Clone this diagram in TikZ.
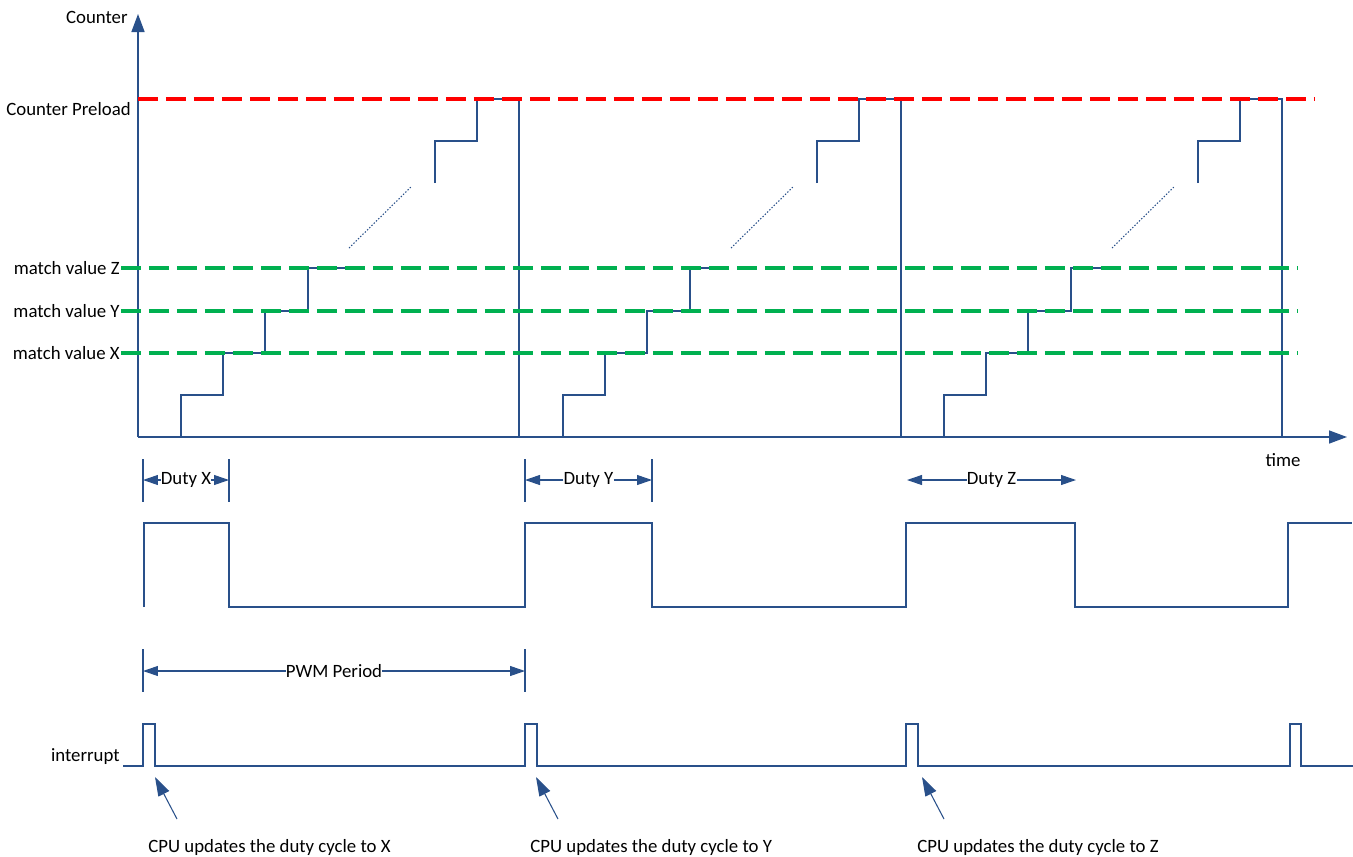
\documentclass[tikz,border=0pt]{standalone}
\usepackage{fontspec}
\setmainfont{Carlito}
\usetikzlibrary{arrows.meta}

\definecolor{sigblue}{RGB}{41,80,138}
\definecolor{preloadred}{RGB}{255,0,0}
\definecolor{matchgreen}{RGB}{0,176,80}

\begin{document}
\begin{tikzpicture}[x=0.02cm, y=-0.02cm,
    every node/.style={font=\fontsize{10.7}{12}\selectfont, inner sep=0pt},
    sig/.style={draw=sigblue, line width=0.8pt},
    axis/.style={draw=sigblue, line width=0.9pt, -{Triangle[length=0.36cm, width=0.26cm]}},
    level/.style={line width=2.1pt, dash pattern=on 0.4cm off 0.16cm},
    dimarrow/.style={draw=sigblue, line width=0.6pt, -{Triangle[length=0.3cm, width=0.2cm]}},
    cpuarrow/.style={draw=sigblue, line width=0.6pt, -{Triangle[length=0.38cm, width=0.24cm]}}]

        \useasboundingbox (0,0) rectangle (1353,856);

        % Counter staircase, one per PWM period
        \foreach \p in {138,520,901}{
            \draw[sig] (\p+43,437) |- (\p+85,395) |- (\p+127,353) |- (\p+170,311) |- (\p+209,268);
            \draw[sig, densely dotted, line width=0.6pt] (\p+211,248) -- (\p+274,186);
            \draw[sig] (\p+297,183) |- (\p+339,141) |- (\p+381,99) -- (\p+381,437);
        }

        % Axes
        \draw[axis] (138,437) -- (138,14);
        \draw[axis] (138,437) -- (1347,437);
        \node[anchor=east] (counterlbl) at (128,17) {Counter};
        \node (timelbl) at (1283,460) {time};

        % Preload and match levels
        \draw[level, preloadred] (138,99) -- (1315,99);
        \foreach \y in {268,311,353}
            \draw[level, matchgreen] (121,\y) -- (1298,\y);
        \node[anchor=east] (preloadlbl) at (131,109) {Counter Preload};
        \node[anchor=east] (matchZ) at (120,268) {match value Z};
        \node[anchor=east] (matchY) at (120,311) {match value Y};
        \node[anchor=east] (matchX) at (120,353) {match value X};

        % Duty widths
        \foreach \x in {143,229,525,652}
            \draw[sig, line width=0.6pt] (\x,459) -- (\x,502);
        \coordinate (dX0) at (143,480);
        \coordinate (dX1) at (229,480);
        \coordinate (dY0) at (525,480);
        \coordinate (dY1) at (652,480);
        \coordinate (dZ0) at (907,480);
        \coordinate (dZ1) at (1076,480);
        \node (dutyX) at (186,480) {Duty X};
        \node (dutyY) at (588.5,480) {Duty Y};
        \node (dutyZ) at (991.5,480) {Duty Z};
        \draw[dimarrow] (dutyX) -- (dX0);
        \draw[dimarrow] (dutyX) -- (dX1);
        \draw[dimarrow] (dutyY) -- (dY0);
        \draw[dimarrow] (dutyY) -- (dY1);
        \draw[dimarrow] (dutyZ) -- (dZ0);
        \draw[dimarrow] (dutyZ) -- (dZ1);

        % PWM output
        \draw[sig] (144,607) |- (229,523) |- (525,607) |- (652,523) |- (906,607)
            |- (1075,523) |- (1288,607) |- (1352,523);

        % PWM period
        \foreach \x in {143,525}
            \draw[sig, line width=0.6pt] (\x,649) -- (\x,692);
        \coordinate (per0) at (143,671);
        \coordinate (per1) at (525,671);
        \node (period) at (334,671) {PWM Period};
        \draw[dimarrow] (period) -- (per0);
        \draw[dimarrow] (period) -- (per1);

        % Interrupt line
        \node[anchor=east] (intlbl) at (120,757) {interrupt};
        \draw[sig] (123,766) -| (143,724) -| (155,766) -| (525,724) -| (537,766)
            -| (906,724) -| (918,766) -| (1290,724) -| (1301,766) -- (1353,766);

        % CPU updates
        \foreach \n/\tx/\tl in {X/155/148, Y/536/530, Z/922/917}{
            \coordinate (tip\n) at (\tx,777);
            \coordinate (tail\n) at (\tx+22,819);
            \draw[cpuarrow] (tail\n) -- (tip\n);
            \node[anchor=west] (cpu\n) at (\tl,847) {CPU updates the duty cycle to \n};
        }

\end{tikzpicture}
\end{document}
